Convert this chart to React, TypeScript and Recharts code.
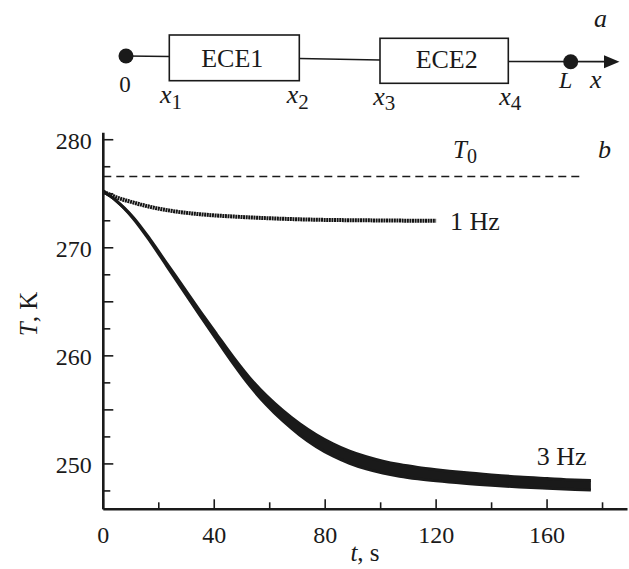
import React from 'react';
import { ComposedChart, Line, Area, XAxis, YAxis } from 'recharts';

// ---- data ----
const T_1HZ = [0, 3, 6, 10, 15, 20, 25, 30, 35, 40, 50, 60, 70, 80, 90, 100, 110, 120];
const V_1HZ = [275.2, 274.85, 274.55, 274.25, 273.9, 273.62, 273.4, 273.23, 273.1, 273.0, 272.85, 272.73, 272.64, 272.58, 272.55, 272.53, 272.51, 272.5];

const T_3HZ = [0, 2.5, 5, 7.5, 10.8, 16.8, 22.8, 28.8, 34.8, 40.8, 46.8, 52.8, 58.8, 64.8, 70.8, 76.8, 82.8, 88.8, 94.8, 100.8, 106.8, 113.4, 120, 130, 140, 150, 160, 170, 175.8];
const UPPER_3HZ = [275.2, 274.78, 274.28, 273.7, 272.81, 270.8, 268.59, 266.38, 264.17, 262.02, 259.9, 257.96, 256.32, 254.93, 253.72, 252.7, 251.86, 251.18, 250.66, 250.25, 249.94, 249.68, 249.47, 249.2, 248.98, 248.79, 248.65, 248.52, 248.47];
const LOWER_3HZ = [275.2, 274.78, 274.28, 273.66, 272.71, 270.64, 268.35, 266.06, 263.77, 261.52, 259.3, 257.24, 255.48, 253.97, 252.68, 251.6, 250.74, 250.06, 249.54, 249.15, 248.86, 248.62, 248.43, 248.2, 248.02, 247.87, 247.75, 247.64, 247.59];

const T0_VALUE = 276.6;
const T0_SPAN = [0, 172];

const X_TICKS = [0, 20, 40, 60, 80, 100, 120, 140, 160, 180];
const Y_TICKS = [247.5, 250, 252.5, 255, 257.5, 260, 262.5, 265, 267.5, 270, 272.5, 275, 277.5, 280];
const X_DOMAIN = [0, 189];
const Y_DOMAIN = [245.8, 280.65];

// ---- tables built for the library ----
const data1Hz = T_1HZ.map((t, i) => ({ t, T: V_1HZ[i] }));
const data3Hz = T_3HZ.map((t, i) => ({ t, band: [LOWER_3HZ[i], UPPER_3HZ[i]] }));
const dataT0 = T0_SPAN.map((t) => ({ t, T: T0_VALUE }));

const INK = '#1a1a1a';
const FONT = '"Liberation Serif", "Times New Roman", serif';

const BottomTick = (props: any) => {
  const { x, y, payload } = props;
  const v = payload.value;
  const major = v % 40 === 0;
  return (
    <g>
      <line x1={x} y1={y} x2={x} y2={y - (major ? 10 : 7)} stroke={INK} strokeWidth={1.6} />
      {major && (
        <text x={x} y={y + 34} textAnchor="middle" fontFamily={FONT} fontSize={24} fill={INK}>
          {v}
        </text>
      )}
    </g>
  );
};

const LeftTick = (props: any) => {
  const { x, y, payload } = props;
  const v = payload.value;
  const major = v % 5 === 0;
  const labelled = v % 10 === 0;
  return (
    <g>
      <line x1={x} y1={y} x2={x + (major ? 10 : 7)} y2={y} stroke={INK} strokeWidth={1.6} />
      {labelled && (
        <text x={x - 11.5} y={y + 9} textAnchor="end" fontFamily={FONT} fontSize={24} fill={INK}>
          {v}
        </text>
      )}
    </g>
  );
};

const RightTick = (props: any) => {
  const { x, y, payload } = props;
  const v = payload.value;
  const major = v % 5 === 0;
  return <line x1={x} y1={y} x2={x - (major ? 9 : 6)} y2={y} stroke={INK} strokeWidth={1.6} />;
};

export default function App() {
  return (
    <div style={{ position: 'absolute', left: 0, top: 0, width: 629, height: 569, background: '#fff' }}>
      <ComposedChart
        width={629}
        height={569}
        margin={{ top: 132.7, right: 1.5, bottom: 0, left: 0 }}
      >
        <XAxis
          dataKey="t"
          type="number"
          domain={X_DOMAIN}
          ticks={X_TICKS}
          interval={0}
          allowDataOverflow
          height={59.7}
          tickSize={0}
          tickMargin={0}
          tickLine={false}
          tick={<BottomTick />}
          axisLine={{ stroke: INK, strokeWidth: 2.6 }}
        />
        <XAxis
          xAxisId="top"
          orientation="top"
          type="number"
          domain={X_DOMAIN}
          allowDataOverflow
          height={0}
          tick={false}
          tickLine={false}
          axisLine={{ stroke: INK, strokeWidth: 2.2 }}
        />
        <YAxis
          type="number"
          domain={Y_DOMAIN}
          ticks={Y_TICKS}
          interval={0}
          allowDataOverflow
          width={103.3}
          tickSize={0}
          tickMargin={0}
          tickLine={false}
          tick={<LeftTick />}
          axisLine={{ stroke: INK, strokeWidth: 2.6 }}
        />
        <YAxis
          yAxisId="right"
          orientation="right"
          type="number"
          domain={Y_DOMAIN}
          ticks={Y_TICKS}
          interval={0}
          allowDataOverflow
          width={0}
          tickSize={0}
          tickMargin={0}
          tickLine={false}
          tick={<RightTick />}
          axisLine={{ stroke: INK, strokeWidth: 2.2 }}
        />
        <Line
          data={dataT0}
          dataKey="T"
          type="linear"
          stroke={INK}
          strokeWidth={1.5}
          strokeDasharray="8 5"
          dot={false}
          activeDot={false}
          isAnimationActive={false}
        />
        <Area
          data={data3Hz}
          dataKey="band"
          type="monotone"
          stroke={INK}
          strokeWidth={3}
          fill={INK}
          fillOpacity={1}
          dot={false}
          activeDot={false}
          isAnimationActive={false}
        />
        <Line
          data={data1Hz}
          dataKey="T"
          type="monotone"
          stroke="#141414"
          strokeWidth={4}
          strokeDasharray="2 0.6"
          dot={false}
          activeDot={false}
          isAnimationActive={false}
        />
      </ComposedChart>

      <svg
        width={629}
        height={569}
        style={{ position: 'absolute', left: 0, top: 0, pointerEvents: 'none' }}
        fontFamily={FONT}
        fill={INK}
      >
        {/* schematic (a) */}
        <line x1={126} y1={56} x2={169.3} y2={56.5} stroke={INK} strokeWidth={1.7} />
        <circle cx={126} cy={56} r={7.5} fill={INK} />
        <rect x={169.3} y={35} width={130} height={45.7} fill="none" stroke={INK} strokeWidth={1.6} />
        <line x1={299.3} y1={58.5} x2={380} y2={60} stroke={INK} strokeWidth={1.7} />
        <rect x={380} y={38.3} width={128.3} height={45} fill="none" stroke={INK} strokeWidth={1.6} />
        <line x1={508.3} y1={61.5} x2={606} y2={61.7} stroke={INK} strokeWidth={1.7} />
        <circle cx={570.7} cy={61.7} r={7.5} fill={INK} />
        <polygon points="619.5,61.7 604,55.2 604,68.2" fill={INK} />
        <text x={232.3} y={66.7} textAnchor="middle" fontSize={26}>ECE1</text>
        <text x={446.7} y={67.5} textAnchor="middle" fontSize={26}>ECE2</text>
        <text x={125} y={91.7} textAnchor="middle" fontSize={23}>0</text>
        <text x={160} y={103} fontSize={26} fontStyle="italic">
          x<tspan fontStyle="normal" fontSize={21} dy={6}>1</tspan>
        </text>
        <text x={286.7} y={103} fontSize={26} fontStyle="italic">
          x<tspan fontStyle="normal" fontSize={21} dy={6}>2</tspan>
        </text>
        <text x={373.3} y={105} fontSize={26} fontStyle="italic">
          x<tspan fontStyle="normal" fontSize={21} dy={5}>3</tspan>
        </text>
        <text x={499.3} y={105} fontSize={26} fontStyle="italic">
          x<tspan fontStyle="normal" fontSize={21} dy={5}>4</tspan>
        </text>
        <text x={559} y={88.3} fontSize={24} fontStyle="italic">L</text>
        <text x={590} y={88.3} fontSize={26} fontStyle="italic">x</text>
        <text x={594} y={27} fontSize={26} fontStyle="italic">a</text>

        {/* chart annotations (b) */}
        <text x={453} y={158} fontSize={25} fontStyle="italic">
          T<tspan fontStyle="normal" fontSize={20} dy={5}>0</tspan>
        </text>
        <text x={598} y={158} fontSize={26} fontStyle="italic">b</text>
        <text x={450} y={230} fontSize={26}>1 Hz</text>
        <text x={536.7} y={465} fontSize={26}>3 Hz</text>
        <text x={365} y={561} textAnchor="middle" fontSize={25}>
          <tspan fontStyle="italic">t</tspan>, s
        </text>
        <text x={37} y={314} textAnchor="middle" fontSize={25} transform="rotate(-90, 37, 314)">
          <tspan fontStyle="italic">T</tspan>, K
        </text>
      </svg>
    </div>
  );
}
